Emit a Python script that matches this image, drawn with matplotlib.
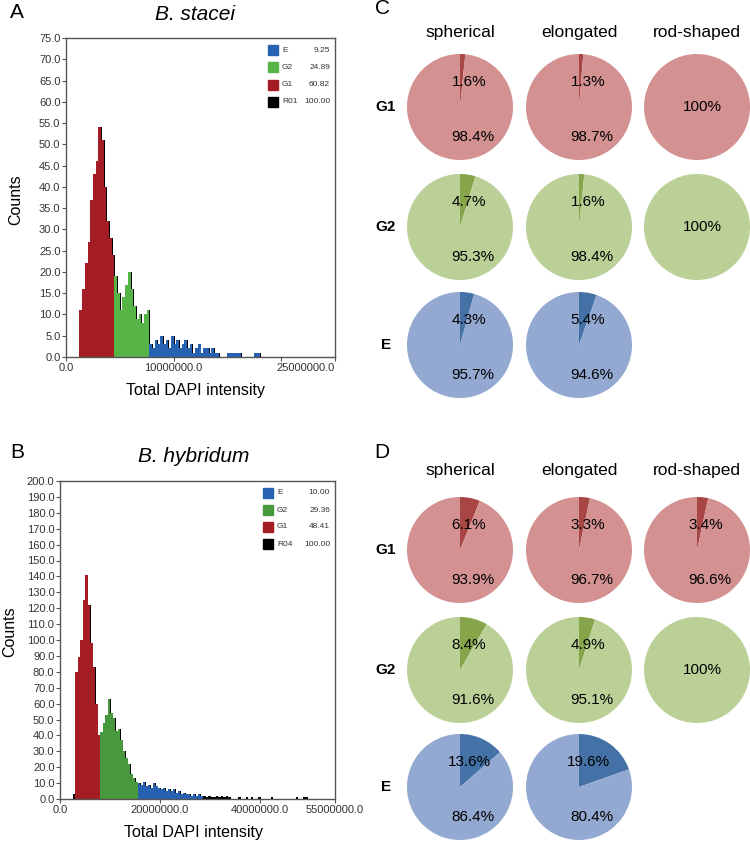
import numpy as np
import matplotlib.pyplot as plt
from matplotlib.patches import Rectangle

plt.rcParams['font.family'] = ['Liberation Sans', 'DejaVu Sans']
narrow = ['Liberation Sans Narrow', 'Liberation Sans', 'DejaVu Sans']

W, H = 750, 842

# --- histogram A: B. stacei (counts per 0.25M bin, first bin starts at 1.0M)
a_bin_start = 1.0e6
a_bin_width = 0.25e6
a_counts = [0, 11, 16, 22, 27, 37, 43, 46, 54, 51, 40, 32, 28, 24,
            19, 15, 11, 14, 17, 20, 16, 12, 9, 10, 8, 10,
            11,
            3, 2, 4, 3, 5, 3, 4, 2, 5, 3, 4, 2, 3, 4, 2, 3, 1, 2, 3, 1, 2,
            2, 1, 2, 1, 1, 0, 0, 0, 1, 1, 1, 1, 1, 0, 0, 0, 0, 0, 1, 1]
a_gate_lo = [1.25e6, 4.5e6, 7.75e6]
a_gate_hi = [4.5e6, 7.75e6, 18.0e6]
a_legend_labels = ['E', 'G2', 'G1', 'R01']
a_legend_values = ['9.25', '24.89', '60.82', '100.00']

# --- histogram B: B. hybridum (counts per 0.5M bin, first bin starts at 2.5M)
b_bin_start = 2.5e6
b_bin_width = 0.5e6
b_counts = [3, 80, 89, 100, 125, 141, 122, 98, 83, 60, 40,
            42, 48, 53, 63, 54, 51, 43, 44, 37, 30, 26, 22, 16, 13, 11,
            10, 9, 11, 8, 9, 7, 10, 8, 7, 6, 7, 5, 6, 5, 6, 4, 5, 3, 4, 3,
            3, 2, 3, 2, 3, 2,
            2, 1, 2, 1, 1, 2, 1, 2, 1, 2, 1,
            0, 0, 0, 1, 0, 0, 1, 0, 1, 0, 0, 1, 0, 0, 0, 0, 1, 0, 0, 0, 0,
            0, 0, 0, 0, 0, 1, 0, 0, 1, 1]
b_gate_lo = [3.0e6, 8.0e6, 15.5e6]
b_gate_hi = [8.0e6, 15.5e6, 28.5e6]
b_legend_labels = ['E', 'G2', 'G1', 'R04']
b_legend_values = ['10.00', '29.36', '48.41', '100.00']

# --- pies: share (%) of the small dark slice, per shape
shapes = ['spherical', 'elongated', 'rod-shaped']
phases = ['G1', 'G2', 'E']
c_g1 = [1.6, 1.3, 0.0]
c_g2 = [4.7, 1.6, 0.0]
c_e = [4.3, 5.4, None]
d_g1 = [6.1, 3.3, 3.4]
d_g2 = [8.4, 4.9, 0.0]
d_e = [13.6, 19.6, None]

red, green_a, green_b, blue = '#a51d24', '#57b548', '#48993e', '#2762b2'
pie_light = {'G1': '#d39191', 'G2': '#bbd097', 'E': '#93a9d1'}
pie_dark = {'G1': '#a84545', 'G2': '#86a44a', 'E': '#4472a6'}

fig = plt.figure(figsize=(W / 100, H / 100), dpi=100)


def fx(x):
    return x / W


def fy(y):
    return 1 - y / H


def draw_hist(rect, start, width, counts, gate_lo, gate_hi, colors,
              xmax, xticks, xlabels, ymax, ystep):
    ax = fig.add_axes(rect)
    counts = np.array(counts)
    left = start + width * np.arange(len(counts))
    # total (black) drawn slightly offset behind the gated histograms
    ax.bar(left + 0.35 * width, counts, width=width, align='edge',
           color='black', lw=0, zorder=1)
    for lo, hi, col in zip(gate_lo, gate_hi, colors):
        m = (left >= lo) & (left < hi)
        ax.bar(left[m], counts[m], width=width, align='edge', color=col,
               lw=0, zorder=2)
    ax.set_xlim(0, xmax)
    ax.set_ylim(0, ymax)
    yt = np.arange(0, ymax + 0.1, ystep)
    ax.set_yticks(yt)
    ax.set_yticklabels([f'{v:.1f}' for v in yt])
    ax.set_xticks(xticks)
    ax.set_xticklabels(xlabels)
    for lab in ax.get_xticklabels() + ax.get_yticklabels():
        lab.set_family(narrow)
    for s in ax.spines.values():
        s.set_color('#555555')
        s.set_linewidth(1.0)
    ax.tick_params(labelsize=8, labelcolor='#333333', color='#555555',
                   length=3, width=0.8, pad=1)
    return ax


def draw_legend(labels, values, colors, x0, y0, dy, xval):
    for i, (lab, val, col) in enumerate(zip(labels, values, colors)):
        y = y0 + i * dy
        fig.patches.append(Rectangle((fx(x0), fy(y + 5)), 10 / W, 10 / H,
                                     transform=fig.transFigure,
                                     color=col, zorder=5))
        fig.text(fx(x0 + 14), fy(y), lab, fontsize=6, color='#333333',
                 va='center', ha='left', family=narrow)
        fig.text(fx(xval), fy(y), val, fontsize=6, color='#333333',
                 va='center', ha='right', family=narrow)


# panel A
ax_a = draw_hist([fx(66), fy(357), 269 / W, 319 / H], a_bin_start, a_bin_width,
                 a_counts, a_gate_lo, a_gate_hi, [red, green_a, blue],
                 25e6, [0, 10e6, 20e6, 25e6],
                 ['0.0', '10000000.0', '', '25000000.0'], 75, 5)
ax_a.get_xticklabels()[-1].set_ha('right')
draw_legend(a_legend_labels, a_legend_values, [blue, green_a, red, 'black'],
            268, 50, 17.3, 330)
fig.text(fx(17), fy(13), 'A', fontsize=15, ha='center', va='center')
fig.text(fx(195), fy(14), 'B. stacei', fontsize=15, style='italic',
         ha='center', va='center')
fig.text(fx(16), fy(200), 'Counts', fontsize=11.5, rotation=90,
         ha='center', va='center')
fig.text(fx(195), fy(390), 'Total DAPI intensity', fontsize=11.5,
         ha='center', va='center')

# panel B
ax_b = draw_hist([fx(60), fy(799), 275 / W, 318 / H], b_bin_start, b_bin_width,
                 b_counts, b_gate_lo, b_gate_hi, [red, green_b, blue],
                 55e6, [0, 20e6, 40e6, 55e6],
                 ['0.0', '20000000.0', '40000000.0', '55000000.0'], 200, 10)
draw_legend(b_legend_labels, b_legend_values, [blue, green_b, red, 'black'],
            263, 493, 17.0, 330)
fig.text(fx(17), fy(453), 'B', fontsize=15, ha='center', va='center')
fig.text(fx(194), fy(456), 'B. hybridum', fontsize=15, style='italic',
         ha='center', va='center')
fig.text(fx(10), fy(632), 'Counts', fontsize=11.5, rotation=90,
         ha='center', va='center')
fig.text(fx(193), fy(832), 'Total DAPI intensity', fontsize=11.5,
         ha='center', va='center')

# panels C and D: pies
ax_p = fig.add_axes([0, 0, 1, 1], zorder=0)
col_x = [460, 579, 697]
radius = 53


def draw_pies(rows, row_y, title_y, letter_y, letter):
    fig.text(fx(382), fy(letter_y), letter, fontsize=15, ha='center',
             va='center')
    for cx, name in zip(col_x, shapes):
        fig.text(fx(cx), fy(title_y), name, fontsize=12.5, ha='center',
                 va='center')
    for phase, vals, cy in zip(phases, rows, row_y):
        fig.text(fx(386), fy(cy), phase, fontsize=11, fontweight='bold',
                 ha='center', va='center')
        for cx, v in zip(col_x, vals):
            if v is None:
                continue
            if v == 0:
                ax_p.pie([100], colors=[pie_light[phase]], center=(cx, H - cy),
                         radius=radius, frame=True,
                         wedgeprops=dict(linewidth=0))
                ax_p.text(cx + 5, H - cy, '100%', fontsize=11, ha='center',
                          va='center')
                continue
            ax_p.pie([v, 100 - v], colors=[pie_dark[phase], pie_light[phase]],
                     startangle=90, counterclock=False, center=(cx, H - cy),
                     radius=radius, frame=True, wedgeprops=dict(linewidth=0))
            ax_p.text(cx + 9, H - cy + 25, f'{v:.1f}%', fontsize=11,
                      ha='center', va='center')
            ax_p.text(cx + 13, H - cy - 30, f'{100 - v:.1f}%', fontsize=11,
                      ha='center', va='center')


draw_pies([c_g1, c_g2, c_e], [107, 227, 345], 32, 9, 'C')
draw_pies([d_g1, d_g2, d_e], [550, 670, 787], 471, 453, 'D')
ax_p.set_xlim(0, W)
ax_p.set_ylim(0, H)
ax_p.set_aspect('auto')
ax_p.set_axis_off()

fig.savefig('out.png', dpi=100)
